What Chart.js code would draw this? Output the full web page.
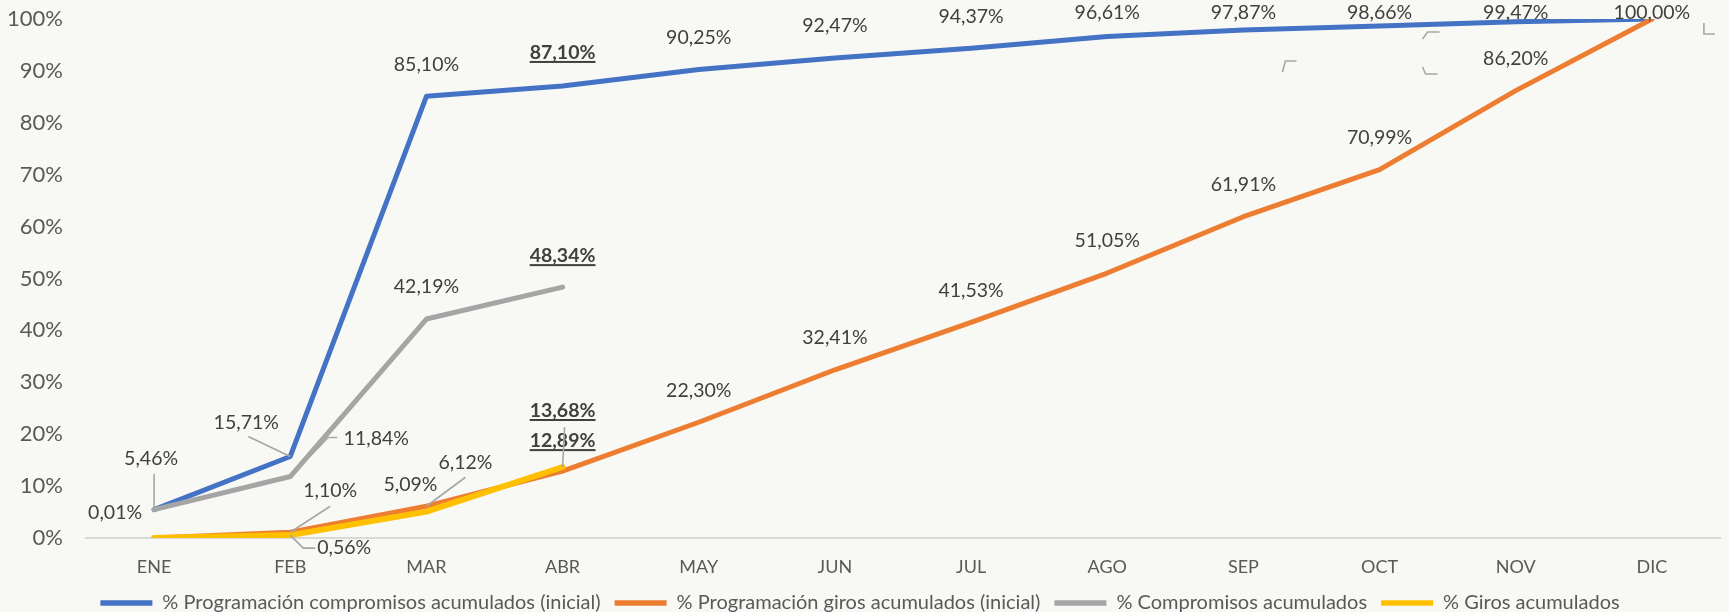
<!DOCTYPE html>
<html>
<head>
<meta charset="utf-8">
<script src="https://cdn.jsdelivr.net/npm/chart.js@4.4.1/dist/chart.umd.min.js"></script>
<style>
  html, body { margin: 0; padding: 0; background: #f8f8f4; }
  #wrap { width: 1729px; height: 612px; position: relative; }
</style>
</head>
<body>
<div id="wrap"><canvas id="chart"></canvas></div>
<script>
const months = ["ENE", "FEB", "MAR", "ABR", "MAY", "JUN", "JUL", "AGO", "SEP", "OCT", "NOV", "DIC"];

const progCompromisos = [5.46, 15.71, 85.10, 87.10, 90.25, 92.47, 94.37, 96.61, 97.87, 98.66, 99.47, 100.00];
const progGiros = [0.01, 1.10, 6.12, 12.89, 22.30, 32.41, 41.53, 51.05, 61.91, 70.99, 86.20, 100.00];
const compromisos = [5.46, 11.84, 42.19, 48.34, null, null, null, null, null, null, null, null];
const giros = [0.00, 0.56, 5.09, 13.68, null, null, null, null, null, null, null, null];

const seriesNames = [
  "% Programación compromisos acumulados (inicial)",
  "% Programación giros acumulados (inicial)",
  "% Compromisos acumulados",
  "% Giros acumulados",
];

const FONT = "Lato, 'Open Sans', sans-serif";
const TEXT_DARK = "#404040";
const TEXT_AXIS = "#595959";

// where each data label sits relative to its point (null = no label)
const above = {};
const labelSpecs = [
  [ {dx: -3, dy: -51, leader: [[3, 15]]}, {dx: -44, dy: -34, leader: [[2, 14]]}, {dy: -32},
    {dy: -33, bold: true}, above, above, above, above, above, above, above, above ],
  [ {dx: -39, dy: -25}, {dx: 40, dy: -42, leader: [[0, 16]]}, {dx: 39, dy: -44, leader: [[0, 15]]},
    {dy: -30, bold: true}, above, above, above, above, above, above, above, null ],
  [ null, {dx: 86, dy: -38, leader: [[-39, -1], [-48, -1]]}, {dy: -32}, {dy: -31, bold: true},
    null, null, null, null, null, null, null, null ],
  [ null, {dx: 54, dy: 13, leader: [[-29, 0], [-41, 0]]}, {dx: -16, dy: -27},
    {dy: -56, bold: true, leader: [[2, 16]]}, null, null, null, null, null, null, null, null ],
];

// stray leader-line fragments left in the original, anchored to blue points
const stubs = [
  {ds: 0, i: 8, path: [[39, 42], [42, 31], [53, 31]]},
  {ds: 0, i: 9, path: [[60, 6], [48, 6], [43, 13]]},
  {ds: 0, i: 9, path: [[43, 41], [46, 48], [58, 48]]},
  {ds: 0, i: 11, path: [[52, 4], [52, 15], [63, 15]]},
];

const fmt = v => v.toFixed(2).replace(".", ",") + "%";

const pointLabels = {
  id: "pointLabels",
  afterDatasetsDraw(chart) {
    const ctx = chart.ctx;
    const size = 19.5;
    const topLimit = 13;
    ctx.save();
    ctx.textAlign = "center";
    ctx.textBaseline = "middle";
    const leaders = [];
    chart.data.datasets.forEach((ds, di) => {
      const meta = chart.getDatasetMeta(di);
      meta.data.forEach((pt, i) => {
        const spec = labelSpecs[di][i];
        if (!spec || ds.data[i] == null) return;
        const s = Object.assign({dx: 0, dy: -32}, spec);
        const x = pt.x + s.dx;
        const y = Math.max(pt.y + s.dy, topLimit);
        const text = fmt(ds.data[i]);
        ctx.font = (s.bold ? "bold " : "") + size + "px " + FONT;
        ctx.fillStyle = TEXT_DARK;
        ctx.fillText(text, x, y);
        if (s.bold) {
          const w = ctx.measureText(text).width;
          ctx.fillRect(x - w / 2, y + 8, w, 2);
        }
        if (s.leader) {
          const pts = s.leader.map(p => [x + p[0], y + p[1]]);
          pts.push([pt.x, pt.y]);
          leaders.push(pts);
        }
      });
    });
    stubs.forEach(st => {
      const pt = chart.getDatasetMeta(st.ds).data[st.i];
      leaders.push(st.path.map(p => [pt.x + p[0], pt.y + p[1]]));
    });
    ctx.strokeStyle = "#a6a6a6";
    ctx.lineWidth = 1.6;
    leaders.forEach(pts => {
      ctx.beginPath();
      pts.forEach((p, k) => k ? ctx.lineTo(p[0], p[1]) : ctx.moveTo(p[0], p[1]));
      ctx.stroke();
    });
    ctx.restore();
  }
};

const lineStyle = (color, width, order) => ({
  borderColor: color,
  backgroundColor: color,
  borderWidth: width,
  pointRadius: 0,
  pointHoverRadius: 0,
  tension: 0,
  borderJoinStyle: "round",
  borderCapStyle: "round",
  order: order,
});

new Chart(document.getElementById("chart"), {
  type: "line",
  data: {
    labels: months,
    datasets: [
      { label: seriesNames[0], data: progCompromisos, ...lineStyle("#4472c4", 5, 4) },
      { label: seriesNames[1], data: progGiros, ...lineStyle("#ed7d31", 5, 3) },
      { label: seriesNames[2], data: compromisos, ...lineStyle("#a5a5a5", 5, 2) },
      { label: seriesNames[3], data: giros, ...lineStyle("#ffc000", 6, 1) },
    ],
  },
  options: {
    responsive: true,
    maintainAspectRatio: false,
    animation: false,
    layout: { padding: { top: 19, right: 9, left: 0, bottom: 0 } },
    scales: {
      x: {
        offset: true,
        grid: { display: false, drawTicks: false },
        border: { display: true, color: "#d9d9d9", width: 2 },
        ticks: { color: TEXT_AXIS, font: { family: FONT, size: 18 }, padding: 18, maxRotation: 0 },
        afterFit(scale) { scale.height = 41; },
      },
      y: {
        min: 0,
        max: 100,
        grid: { display: false, drawTicks: false },
        border: { display: false },
        ticks: {
          stepSize: 10,
          color: TEXT_AXIS,
          font: { family: FONT, size: 22 },
          padding: 23,
          callback: v => v + "%",
        },
        afterFit(scale) {
          scale.width = 86;
          scale.paddingTop = 0;
          scale.paddingBottom = 0;
        },
      },
    },
    plugins: {
      tooltip: { enabled: false },
      legend: {
        position: "bottom",
        maxHeight: 33,
        labels: {
          usePointStyle: true,
          pointStyle: "line",
          pointStyleWidth: 52,
          padding: 14,
          color: TEXT_AXIS,
          font: { family: FONT, size: 20 },
          sort: (a, b) => a.datasetIndex - b.datasetIndex,
          generateLabels(chart) {
            const items = Chart.defaults.plugins.legend.labels.generateLabels(chart);
            items.forEach(it => { it.lineWidth = 5.5; });
            return items;
          },
        },
      },
    },
  },
  plugins: [pointLabels],
});
</script>
</body>
</html>
